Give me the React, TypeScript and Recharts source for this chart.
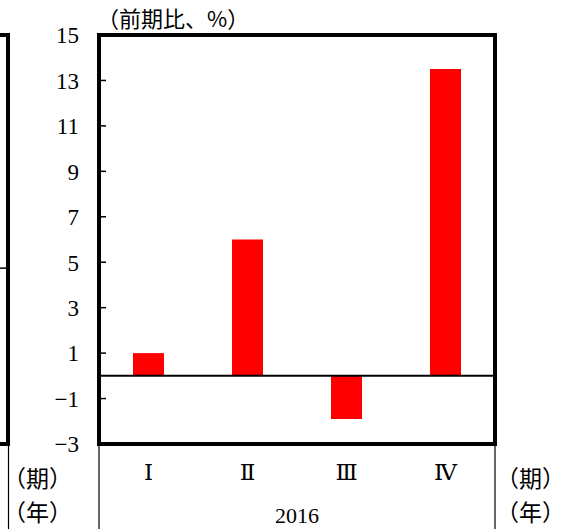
import React from 'react';
import { BarChart, Bar, XAxis, YAxis, ReferenceLine, ReferenceArea } from 'recharts';

const quarters = ['Ⅰ', 'Ⅱ', 'Ⅲ', 'Ⅳ'];
const changes = [1.0, 6.0, -1.9, 13.5];
const yTicks = [-3, -1, 1, 3, 5, 7, 9, 11, 13, 15];
const yearLabel = '2016';
const titleText = '（前期比、%）';
const periodText = '（期）';
const yearText = '（年）';

const data = quarters.map((q, i) => ({ q, v: changes[i] }));

const NUM_FONT = "'Liberation Serif', 'DejaVu Serif', serif";
const CJK_FONT = "'Noto Sans CJK JP', 'Noto Sans CJK SC', sans-serif";

const fmt = (v: number) => (v < 0 ? '−' + Math.abs(v) : String(v));

const YTick = (props: any) => {
  const { x, y, payload } = props;
  return (
    <g>
      <line x1={x + 20} x2={x + 27} y1={y} y2={y} stroke="#000" strokeWidth={1.5} />
      <text x={x} y={y} dy="0.36em" textAnchor="end" fontSize={23} fontFamily={NUM_FONT} fill="#000">
        {fmt(payload.value)}
      </text>
    </g>
  );
};

const YLabel = (props: any) => {
  const vb = props.viewBox || {};
  const { x = 0, y = 0, width = 0, height = 0 } = vb;
  const fx = x + 8;
  return (
    <g>
      <text x={x + width - 2} y={y - 8} fontSize={22} fontFamily={CJK_FONT} fill="#000">
        {titleText}
      </text>
      <line x1={fx} x2={fx} y1={y} y2={y + height} stroke="#000" strokeWidth={4} strokeLinecap="square" />
      <line x1={x - 2} x2={fx} y1={y} y2={y} stroke="#000" strokeWidth={4} strokeLinecap="square" />
      <line x1={x - 2} x2={fx} y1={y + height} y2={y + height} stroke="#000" strokeWidth={4} strokeLinecap="square" />
      <line x1={x} x2={fx} y1={y + height * 0.57} y2={y + height * 0.57} stroke="#000" strokeWidth={1.5} />
      <line x1={fx + 0.5} x2={fx + 0.5} y1={y + height} y2={y + height + 90} stroke="#000" strokeWidth={1.2} />
    </g>
  );
};

const XLabel = (props: any) => {
  const vb = props.viewBox || {};
  const { x = 0, y = 0, width = 0, height = 0 } = vb;
  return (
    <g>
      <line x1={x} x2={x} y1={y} y2={y + height} stroke="#000" strokeWidth={1.2} />
      <line x1={x + width} x2={x + width} y1={y} y2={y + height} stroke="#000" strokeWidth={1.2} />
      <text x={x + width / 2} y={y + height - 6} textAnchor="middle" fontSize={22} fontFamily={NUM_FONT} fill="#000">
        {yearLabel}
      </text>
      <text x={x - 96} y={y + 43} fontSize={23} fontFamily={CJK_FONT} fill="#000">{periodText}</text>
      <text x={x - 96} y={y + 77} fontSize={23} fontFamily={CJK_FONT} fill="#000">{yearText}</text>
      <text x={x + width + 1} y={y + 43} fontSize={23} fontFamily={CJK_FONT} fill="#000">{periodText}</text>
      <text x={x + width + 1} y={y + 77} fontSize={23} fontFamily={CJK_FONT} fill="#000">{yearText}</text>
    </g>
  );
};

export default function App() {
  return (
    <div style={{ position: 'absolute', left: 0, top: 0, background: '#fff' }}>
      <BarChart width={573} height={529} data={data} margin={{ top: 35, right: 78, bottom: 0, left: 0 }}>
        <XAxis
          dataKey="q"
          height={85}
          axisLine={false}
          tickLine={false}
          tickSize={0}
          tickMargin={20}
          tick={{ fontSize: 23, fill: '#000', fontFamily: NUM_FONT }}
          interval={0}
          label={<XLabel />}
        />
        <YAxis
          width={99}
          domain={[-3, 15]}
          ticks={yTicks}
          type="number"
          allowDataOverflow
          axisLine={false}
          tickLine={false}
          tickSize={0}
          tickMargin={20}
          tick={<YTick />}
          interval={0}
          label={<YLabel />}
        />
        <ReferenceLine y={0} stroke="#000" strokeWidth={2} />
        <Bar dataKey="v" fill="#ff0000" barSize={31} isAnimationActive={false} />
        <ReferenceArea y1={-3} y2={15} fill="none" fillOpacity={0} stroke="#000" strokeWidth={4} />
      </BarChart>
    </div>
  );
}
